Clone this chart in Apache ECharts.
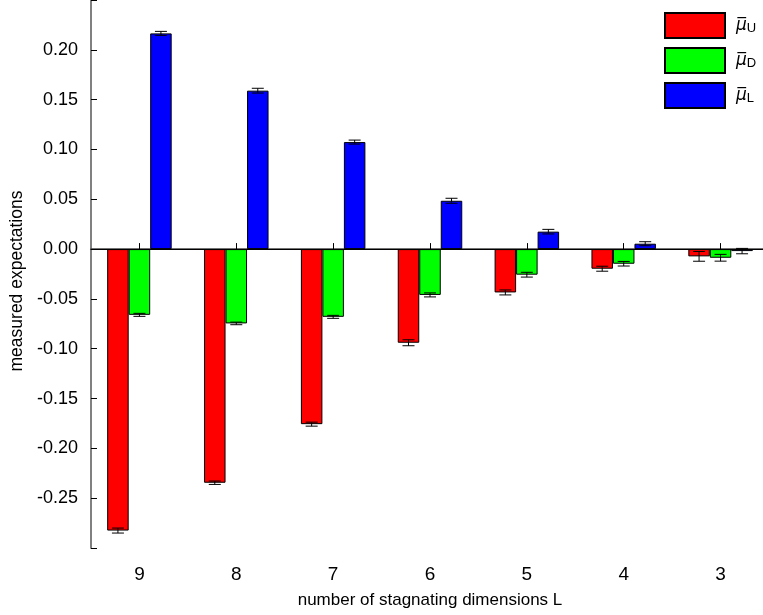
<!DOCTYPE html>
<html><head><meta charset="utf-8">
<script src="https://cdn.jsdelivr.net/npm/echarts@6/dist/echarts.min.js"></script>
<style>html,body{margin:0;padding:0;background:#fff;overflow:hidden;width:763px;height:615px}#c{width:769px;height:615px}</style>
</head><body><div id="c"></div>
<script>
// ---- data ----
const categories = ['9', '8', '7', '6', '5', '4', '3'];
const seriesNames = ['U', 'D', 'L'];
const muU = [-0.2825, -0.2345, -0.1757, -0.0940, -0.0435, -0.0197, -0.0073];
const muD = [-0.0660, -0.0746, -0.0680, -0.0460, -0.0257, -0.0147, -0.0087];
const muL = [0.2165, 0.1590, 0.1074, 0.0485, 0.0175, 0.0054, -0.0020];
const errU = [0.0025, 0.0017, 0.0020, 0.0030, 0.0025, 0.0025, 0.0049];
const errD = [0.0015, 0.0013, 0.0015, 0.0020, 0.0024, 0.0023, 0.0034];
const errL = [0.0020, 0.0024, 0.0020, 0.0025, 0.0023, 0.0020, 0.0027];
const yMin = -0.30, yMax = 0.25, yStep = 0.05;
const xTitle = 'number of stagnating dimensions L';
const yTitle = 'measured expectations';

// ---- style ----
const colors = ['#ff0000', '#00ff00', '#0000ff'];
const BAR_W = 21.5;
const FONT = 'Liberation Sans, Arial, sans-serif';

const values = [muU, muD, muL];
const errs = [errU, errD, errL];
const legendNames = seriesNames.map(s => 'mu' + s);

const chart = echarts.init(document.getElementById('c'), null, {renderer: 'canvas'});

const barSeries = values.map((vals, k) => ({
  type: 'bar',
  name: legendNames[k],
  data: vals,
  barWidth: BAR_W,
  barGap: '0%',
  xAxisIndex: 0, yAxisIndex: 0,
  itemStyle: {color: colors[k], borderColor: '#000', borderWidth: 1},
  emphasis: {disabled: true},
  z: 2,
  markLine: k === 0 ? {
    silent: true, symbol: ['none', 'none'],
    label: {show: false},
    lineStyle: {color: '#000', width: 1, type: 'solid'},
    data: [{yAxis: 0}]
  } : undefined
}));

const errSeries = values.map((vals, k) => ({
  type: 'custom',
  name: 'err' + k,
  xAxisIndex: 0, yAxisIndex: 0,
  z: 5,
  silent: true,
  data: vals.map((v, i) => [i, v, errs[k][i]]),
  encode: {x: 0, y: 1},
  renderItem: function (params, api) {
    const idx = api.value(0), v = api.value(1), e = api.value(2);
    const off = (k - 1) * BAR_W;
    const x = api.coord([idx, v])[0] + off;
    const yt = api.coord([idx, v + e])[1];
    const yb = api.coord([idx, v - e])[1];
    const hw = 6;
    const st = {stroke: '#000', lineWidth: 1};
    return {
      type: 'group',
      children: [
        {type: 'line', shape: {x1: x, y1: yt, x2: x, y2: yb}, style: st},
        {type: 'line', shape: {x1: x - hw, y1: yt, x2: x + hw, y2: yt}, style: st},
        {type: 'line', shape: {x1: x - hw, y1: yb, x2: x + hw, y2: yb}, style: st}
      ]
    };
  }
}));

const yLabelFmt = v => (v <= yMin + 1e-9 || v >= yMax - 1e-9) ? '' : v.toFixed(2);

const option = {
  animation: false,
  backgroundColor: '#fff',
  grid: {left: 91, top: 0, right: 0, bottom: 67, containLabel: false},
  legend: {
    orient: 'vertical', left: 664, top: 12, padding: 0,
    itemWidth: 60, itemHeight: 25, itemGap: 8,
    icon: 'rect',
    data: legendNames,
    selectedMode: false,
    formatter: name => '{m|μ\u0305}{s|' + name.slice(2) + '}',
    textStyle: {
      padding: [0, 0, 0, 6],
      rich: {
        m: {fontFamily: 'DejaVu Sans', fontStyle: 'italic', fontSize: 17, color: '#000'},
        s: {fontFamily: FONT, fontSize: 13, color: '#000', padding: [5, 0, 0, 0]}
      }
    }
  },
  xAxis: [{
    type: 'category', data: categories, position: 'bottom',
    boundaryGap: true,
    axisLine: {show: true, lineStyle: {color: '#444', width: 1.5}},
    axisTick: {show: true, inside: true, alignWithLabel: true, length: 6, lineStyle: {color: '#000'}},
    axisLabel: {color: '#000', fontFamily: FONT, fontSize: 19, margin: 17},
    name: xTitle, nameLocation: 'middle', nameGap: 44,
    nameTextStyle: {color: '#000', fontFamily: FONT, fontSize: 17},
    splitLine: {show: false}
  }, {
    type: 'category', data: categories, position: 'top',
    boundaryGap: true,
    axisLine: {show: true, lineStyle: {color: '#000', width: 1}},
    axisTick: {show: true, inside: true, alignWithLabel: true, length: 6, lineStyle: {color: '#000'}},
    axisLabel: {show: false},
    splitLine: {show: false}
  }],
  yAxis: [{
    type: 'value', min: yMin, max: yMax, interval: yStep, position: 'left',
    axisLine: {show: true, lineStyle: {color: '#808080', width: 2}},
    axisTick: {show: true, inside: true, length: 6, lineStyle: {color: '#000'}},
    axisLabel: {color: '#000', fontFamily: FONT, fontSize: 18, margin: 13, formatter: yLabelFmt},
    splitLine: {show: false}
  }, {
    type: 'value', min: yMin, max: yMax, interval: yStep, position: 'right',
    axisLine: {show: true, lineStyle: {color: '#000', width: 1}},
    axisTick: {show: true, inside: true, length: 6, lineStyle: {color: '#000'}},
    axisLabel: {show: false},
    splitLine: {show: false}
  }],
  graphic: [{
    type: 'text', x: 17, y: 281, rotation: Math.PI / 2,
    style: {text: yTitle, fill: '#000', font: '17.5px ' + FONT, textAlign: 'center', textVerticalAlign: 'middle'}
  }],
  series: barSeries.concat(errSeries)
};
chart.setOption(option);
</script>
</body></html>
